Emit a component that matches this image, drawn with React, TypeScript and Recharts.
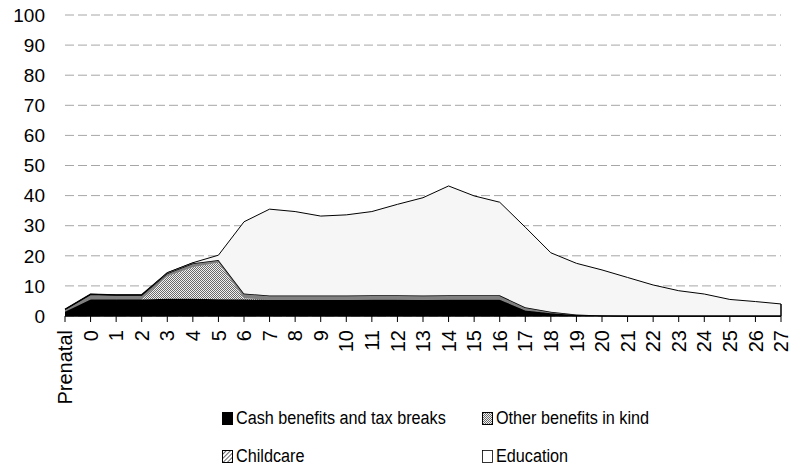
import React from 'react';
import { AreaChart, Area, XAxis, YAxis, CartesianGrid, ReferenceLine } from 'recharts';

const AGES = ['Prenatal', '0', '1', '2', '3', '4', '5', '6', '7', '8', '9', '10', '11', '12', '13', '14', '15', '16', '17', '18', '19', '20', '21', '22', '23', '24', '25', '26', '27'];

const CASH = [1.4, 5.5, 5.5, 5.5, 5.7, 5.7, 5.6, 5.5, 5.3, 5.3, 5.3, 5.3, 5.4, 5.4, 5.3, 5.4, 5.4, 5.4, 1.8, 0.9, 0.3, 0.1, 0, 0, 0, 0, 0, 0, 0];
const OTHER = [0, 0, 0, 0, 7.4, 10.5, 12.1, 0.4, 0, 0, 0, 0, 0, 0, 0, 0, 0, 0, 0, 0, 0, 0, 0, 0, 0, 0, 0, 0, 0];
const CHILDCARE = [0.8, 1.7, 1.5, 1.5, 1.1, 1.3, 0.9, 1.6, 1.5, 1.5, 1.5, 1.5, 1.5, 1.5, 1.5, 1.5, 1.5, 1.5, 1.1, 0.5, 0.2, 0.1, 0, 0, 0, 0, 0, 0, 0];
const EDUCATION = [0, 0, 0, 0, 0.2, 0.2, 1.6, 23.8, 28.7, 27.9, 26.4, 26.8, 27.8, 30.2, 32.5, 36.3, 33.0, 30.9, 26.6, 19.6, 17.0, 15.1, 12.8, 10.3, 8.4, 7.3, 5.5, 4.8, 4.0];
const Y_TICKS = [0, 10, 20, 30, 40, 50, 60, 70, 80, 90, 100];

const data = AGES.map((age, i) => ({
  age,
  cash: CASH[i],
  other: OTHER[i],
  childcare: CHILDCARE[i],
  education: EDUCATION[i],
}));

const lastIdx = AGES.length - 1;
const lastTotal = CASH[lastIdx] + OTHER[lastIdx] + CHILDCARE[lastIdx] + EDUCATION[lastIdx];

const FONT = 'Arial, "Liberation Sans", sans-serif';

const AgeTick = ({ x, y, payload }: any) => (
  <g transform={`translate(${x},${y})`}>
    <text x={-6} y={0} dy="0.36em" textAnchor="end" transform="rotate(-90)" fontSize={20} fontFamily={FONT} fill="#000">
      {payload.value}
    </text>
  </g>
);

const Swatch = ({ kind }: { kind: string }) => (
  <svg width={11} height={13} style={{ marginRight: 3, flex: 'none' }}>
    <defs>
      <pattern id={`lg-dots`} width={2} height={2} patternUnits="userSpaceOnUse">
        <rect width={2} height={2} fill="#f2f2f2" />
        <rect width={1} height={1} fill="#6a6a6a" />
        <rect x={1} y={1} width={1} height={1} fill="#6a6a6a" />
      </pattern>
      <pattern id={`lg-hatch`} width={3} height={3} patternUnits="userSpaceOnUse" patternTransform="rotate(45)">
        <rect width={3} height={3} fill="#fff" />
        <line x1={0} y1={0} x2={0} y2={3} stroke="#000" strokeWidth={1.2} />
      </pattern>
    </defs>
    {kind === 'cash' && <rect x={0.5} y={0.5} width={10} height={12} fill="#000" stroke="#000" />}
    {kind === 'other' && <rect x={0.5} y={0.5} width={10} height={12} fill="url(#lg-dots)" stroke="#000" />}
    {kind === 'childcare' && <rect x={0.5} y={0.5} width={10} height={12} fill="url(#lg-hatch)" stroke="#000" />}
    {kind === 'education' && <rect x={0.5} y={0.5} width={10} height={12} fill="#fff" stroke="#000" strokeWidth={0.8} />}
  </svg>
);

const LEGEND_ITEMS = [
  { kind: 'cash', label: 'Cash benefits and tax breaks' },
  { kind: 'other', label: 'Other benefits in kind' },
  { kind: 'childcare', label: 'Childcare' },
  { kind: 'education', label: 'Education' },
];

const ChartLegend = () => (
  <div style={{ position: 'absolute', left: 222, top: 407, display: 'grid', gridTemplateColumns: '260px 220px', rowGap: 16, fontFamily: FONT, fontSize: 18, color: '#000' }}>
    {LEGEND_ITEMS.map((it) => (
      <div key={it.kind} style={{ display: 'flex', alignItems: 'center', whiteSpace: 'nowrap', height: 22 }}>
        <Swatch kind={it.kind} />
        <span style={{ display: 'inline-block', transform: 'scaleX(0.9)', transformOrigin: 'left center' }}>{it.label}</span>
      </div>
    ))}
  </div>
);

export default function App() {
  return (
    <div style={{ position: 'absolute', left: 0, top: 0, width: 793, height: 474, background: '#fff' }}>
      <AreaChart width={793} height={474} data={data} margin={{ top: 15, right: 12, left: 0, bottom: 58 }}>
        <defs>
          <pattern id="dots" width={2} height={2} patternUnits="userSpaceOnUse">
            <rect width={2} height={2} fill="#f2f2f2" />
            <rect width={1} height={1} fill="#6a6a6a" />
            <rect x={1} y={1} width={1} height={1} fill="#6a6a6a" />
          </pattern>
        </defs>
        <CartesianGrid horizontal vertical={false} stroke="#a6a6a6" strokeDasharray="9 4" />
        <XAxis
          dataKey="age"
          interval={0}
          tick={<AgeTick />}
          axisLine={{ stroke: '#000', strokeWidth: 1.5 }}
          tickLine={{ stroke: '#000' }}
          tickSize={6}
          height={100}
        />
        <YAxis
          domain={[0, 100]}
          ticks={Y_TICKS}
          axisLine={false}
          tickLine={false}
          tickSize={0}
          tickMargin={20}
          width={65}
          tick={{ fontSize: 19, fontFamily: FONT, fill: '#000' }}
        />
        <Area type="linear" dataKey="cash" name="Cash benefits and tax breaks" stackId="a" fill="#000" fillOpacity={1} stroke="#000" strokeWidth={1} isAnimationActive={false} />
        <Area type="linear" dataKey="other" name="Other benefits in kind" stackId="a" fill="url(#dots)" fillOpacity={1} stroke="none" isAnimationActive={false} />
        <Area type="linear" dataKey="childcare" name="Childcare" stackId="a" fill="#808080" fillOpacity={1} stroke="#000" strokeWidth={1.5} isAnimationActive={false} />
        <Area type="linear" dataKey="education" name="Education" stackId="a" fill="#f6f6f6" fillOpacity={1} stroke="#000" strokeWidth={1} isAnimationActive={false} />
        <ReferenceLine segment={[{ x: AGES[lastIdx], y: 0 }, { x: AGES[lastIdx], y: lastTotal }]} stroke="#000" strokeWidth={1.5} />
      </AreaChart>
      <ChartLegend />
    </div>
  );
}
